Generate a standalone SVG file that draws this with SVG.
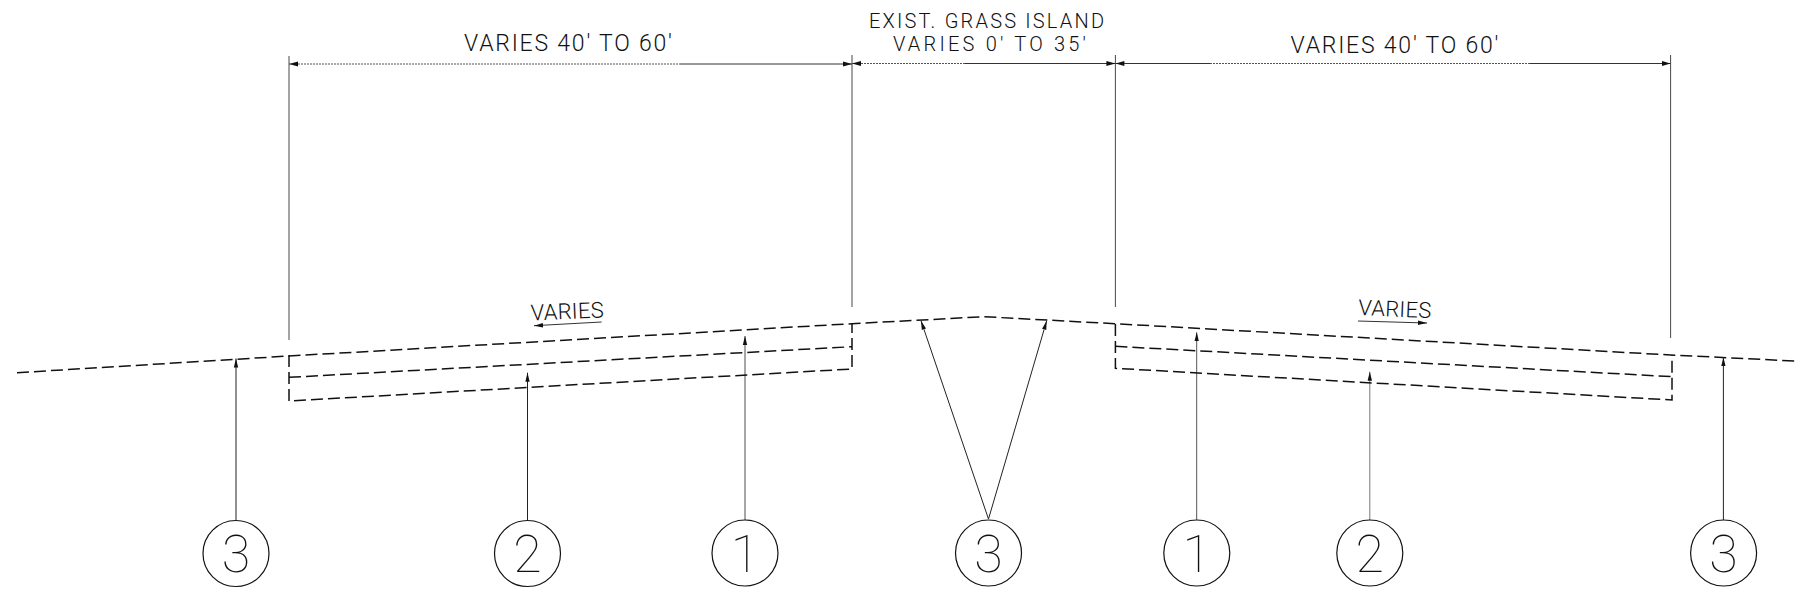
<svg xmlns="http://www.w3.org/2000/svg" width="1795" height="603" viewBox="0 0 1795 603">
<style>
text{font-family:Roboto,"Liberation Sans",sans-serif;font-weight:300;fill:#111}
.lbl{font-size:23px}
.mid{font-size:20px}
.small{font-size:22px}
.num{font-size:52px;text-anchor:middle;font-weight:100}
.road{fill:none;stroke:#111;stroke-width:1.5;stroke-dasharray:12 5}
.ext{fill:none;stroke:#333;stroke-width:.9}
.dot{fill:none;stroke:#555;stroke-width:1;stroke-dasharray:2 1}
.sol{fill:none;stroke:#333;stroke-width:1}
.lead{fill:none;stroke:#222;stroke-width:1;marker-end:url(#leadEnd)}
.bub{fill:none;stroke:#111;stroke-width:1.2}
.thin{fill:none;stroke:#333;stroke-width:1;marker-end:url(#leadEnd)}
.ms{marker-start:url(#dimStart)}
.me{marker-end:url(#dimEnd)}
</style>
<defs>
<marker id="dimEnd" markerUnits="userSpaceOnUse" markerWidth="10" markerHeight="6" refX="9" refY="3" orient="auto"><path d="M0 .5L9 3L0 5.5Z" fill="#111"/></marker>
<marker id="dimStart" markerUnits="userSpaceOnUse" markerWidth="10" markerHeight="6" refX="0" refY="3" orient="auto"><path d="M9 .5L0 3L9 5.5Z" fill="#111"/></marker>
<marker id="leadEnd" markerUnits="userSpaceOnUse" markerWidth="10" markerHeight="6" refX="9" refY="3" orient="auto"><path d="M0 .8L9 3L0 5.2Z" fill="#111"/></marker>
</defs>
<rect width="1795" height="603" fill="#fff"/>
<g id="connectors">
<path class="ext" d="M289 56V340M852 55V307M1115.4 55V307M1670.6 55V338"/>
<path class="dot ms" d="M289 64H680"/>
<path class="sol me" d="M680 64H852"/>
<path class="dot ms" d="M852 63.5H965"/>
<path class="sol me" d="M965 63.5H1115.4"/>
<path class="sol ms" d="M1115.4 63.5H1210"/>
<path class="dot" d="M1210 63.5H1530"/>
<path class="sol me" d="M1530 63.5H1670.6"/>
<path class="lead" d="M236 520V358.5"/>
<path class="lead" d="M527.5 520V372.7"/>
<path class="lead" d="M745 520V336" style="stroke:#888;stroke-width:1.5"/>
<path class="lead" d="M988.5 519L921 320.7"/>
<path class="lead" d="M988.5 519L1046.7 320.7"/>
<path class="lead" d="M1196.7 520V332.3" style="stroke:#555"/>
<path class="lead" d="M1369.8 520V371.7" style="stroke:#777"/>
<path class="lead" d="M1723.4 520V357.3"/>
<path class="thin" d="M601.6 322L534 325.7"/>
<path class="thin" d="M1358 321L1427 323"/>
</g>
<g id="roadway">
<path class="road" d="M17 372.7L289 356L852 323.7L984 316.7L1115.4 323.7L1670.6 355L1795 361"/>
<path class="road" d="M289 355V401L852 369V324"/>
<path class="road" d="M289 377.3L852 346.7"/>
<path class="road" d="M1115.4 324V368.3L1672 400V355"/>
<path class="road" d="M1115.4 346.3L1672 376.7"/>
</g>
<g id="labels">
<text class="lbl" x="464" y="50.5" textLength="208">VARIES 40′ TO 60′</text>
<text class="mid" x="869" y="27.5" textLength="235">EXIST. GRASS ISLAND</text>
<text class="mid" x="893" y="51" textLength="193">VARIES 0′ TO 35′</text>
<text class="lbl" x="1290.5" y="52.5" textLength="208">VARIES 40′ TO 60′</text>
<text class="small" transform="translate(531 320.5) rotate(-2.5)" textLength="73">VARIES</text>
<text class="small" transform="translate(1358 315) rotate(2.5)" textLength="73">VARIES</text>
</g>
<g id="bubble-3a"><circle class="bub" cx="236" cy="553.5" r="33"/><text class="num" x="236" y="572">3</text></g>
<g id="bubble-2a"><circle class="bub" cx="527.5" cy="553.5" r="33"/><text class="num" x="527.5" y="572">2</text></g>
<g id="bubble-1a"><circle class="bub" cx="745" cy="553" r="33"/><text class="num" x="745" y="572">1</text></g>
<g id="bubble-3b"><circle class="bub" cx="988.5" cy="553" r="33"/><text class="num" x="988.5" y="572">3</text></g>
<g id="bubble-1b"><circle class="bub" cx="1196.8" cy="553" r="33"/><text class="num" x="1196.8" y="572">1</text></g>
<g id="bubble-2b"><circle class="bub" cx="1369.8" cy="553" r="33"/><text class="num" x="1369.8" y="572">2</text></g>
<g id="bubble-3c"><circle class="bub" cx="1723.6" cy="553" r="33"/><text class="num" x="1723.6" y="572">3</text></g>
</svg>
